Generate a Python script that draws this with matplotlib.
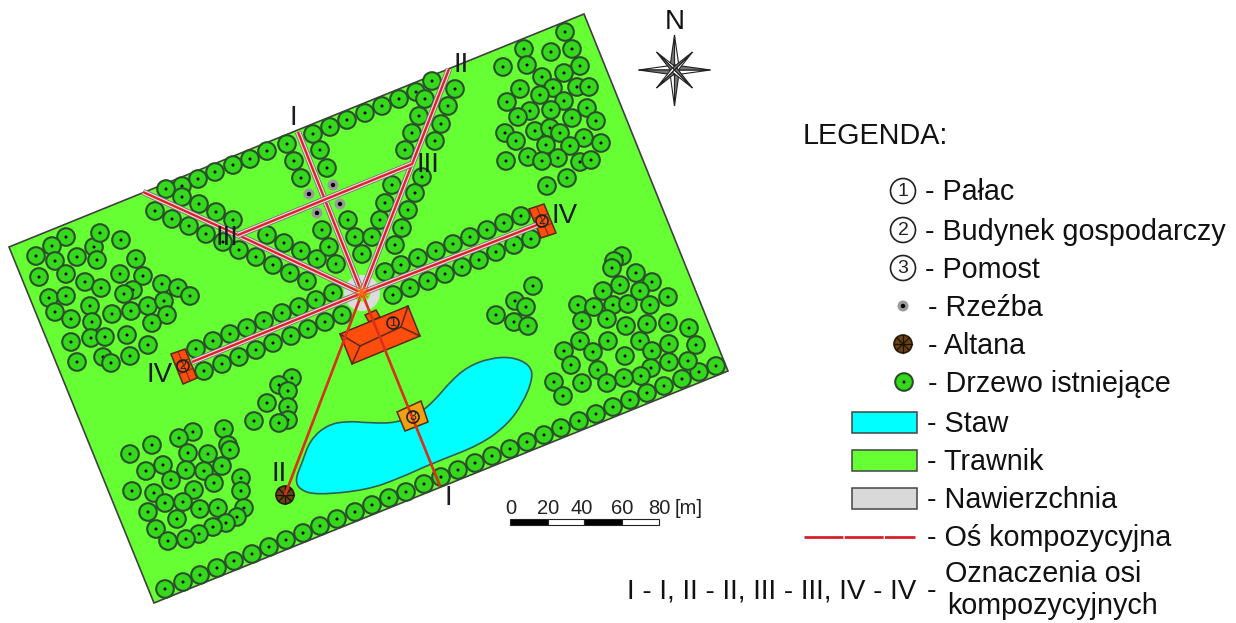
# Park plan with composition axes
import numpy as np
import matplotlib
matplotlib.use("Agg")
import matplotlib.pyplot as plt
from matplotlib.patches import Circle, Polygon, PathPatch, Rectangle
from matplotlib.path import Path

plt.rcParams["font.family"] = ["Liberation Sans", "DejaVu Sans"]

# everything in pixels
parcel = [(584, 14), (728, 371), (154, 603), (9, 247)]

pond = [(295, 480), (302, 463), (310, 440), (327, 425), (347, 421), (370, 423),
        (397, 423), (420, 413), (435, 400), (450, 382), (467, 367), (490, 358),
        (513, 357), (530, 365), (533, 378), (523, 403), (507, 425), (480, 445),
        (433, 463), (400, 478), (367, 490), (317, 495), (300, 490)]

trees_top_row = [(399, 99), (382, 106), (365, 113), (347, 120), (330, 127), (313, 134),
                 (287, 144), (267, 151), (250, 159), (233, 165), (215, 172), (198, 179),
                 (182, 186), (166, 189), (182, 197), (199, 204), (216, 212), (233, 220),
                 (155, 211), (172, 219), (189, 226), (206, 234), (223, 242), (239, 250),
                 (256, 257), (273, 265), (290, 273), (307, 281)]
trees_inner = [(267, 235), (284, 243), (301, 251), (317, 259), (336, 264), (329, 247),
               (322, 230), (348, 220), (355, 237), (372, 237), (362, 254), (385, 272),
               (380, 220), (392, 185), (385, 203), (320, 150), (327, 168), (294, 161),
               (301, 178), (432, 81), (416, 92), (425, 99), (455, 89), (448, 106),
               (419, 116), (441, 124), (412, 133), (435, 141), (405, 150), (422, 177),
               (415, 193), (408, 210), (402, 228), (395, 245)]
trees_axis_iv = [(196, 349), (213, 341), (230, 334), (247, 328), (264, 321), (282, 313),
                 (299, 307), (316, 300), (333, 293), (204, 371), (222, 364), (239, 357),
                 (256, 350), (273, 343), (291, 336), (308, 329), (325, 322), (342, 315),
                 (521, 216), (504, 223), (487, 230), (470, 237), (453, 244), (436, 251),
                 (418, 258), (401, 265), (531, 239), (514, 245), (496, 252), (479, 260),
                 (462, 267), (445, 274), (428, 281), (410, 288), (393, 295)]
trees_left = [(66, 237), (52, 246), (36, 256), (55, 261), (77, 257), (94, 247), (100, 233),
              (121, 240), (97, 260), (66, 274), (39, 277), (85, 282), (101, 288), (120, 274),
              (136, 259), (143, 276), (162, 284), (178, 288), (190, 296), (133, 290),
              (124, 294), (49, 298), (66, 296), (90, 306), (112, 314), (131, 311),
              (148, 306), (164, 301), (167, 315), (55, 312), (71, 319), (92, 322),
              (152, 323), (71, 342), (91, 338), (105, 337), (127, 335), (148, 345),
              (77, 362), (103, 357), (111, 363), (130, 356)]
trees_mid_left = [(292, 378), (279, 385), (288, 391), (267, 403), (288, 407), (288, 420),
                  (279, 423), (254, 421)]
trees_bottom_left = [(193, 432), (179, 438), (224, 429), (228, 445), (230, 450), (152, 445),
                     (130, 454), (188, 453), (208, 454), (222, 466), (163, 465), (146, 471),
                     (186, 470), (204, 471), (171, 480), (214, 483), (241, 478), (241, 491),
                     (194, 490), (132, 491), (154, 493), (165, 503), (183, 502), (200, 509),
                     (218, 508), (244, 508), (237, 517), (226, 523), (148, 512), (177, 519),
                     (213, 527), (199, 534), (186, 539), (156, 529), (168, 541)]
trees_bottom_row = [(165, 589), (183, 582), (200, 575), (217, 568), (234, 561), (252, 554),
                    (269, 547), (286, 540), (303, 533), (320, 526), (337, 519), (355, 512),
                    (372, 505), (389, 498), (406, 492), (424, 484), (441, 477), (458, 470),
                    (475, 463), (492, 456), (510, 449), (527, 442), (544, 435), (561, 428),
                    (579, 421), (596, 414), (613, 407), (630, 400), (647, 393), (664, 386),
                    (682, 379), (699, 372), (716, 366)]
trees_mid_right = [(533, 286), (515, 301), (526, 307), (496, 315), (514, 322), (528, 326)]
trees_right = [(622, 256), (614, 261), (612, 268), (636, 273), (652, 282), (620, 285),
               (603, 291), (640, 291), (668, 297), (578, 305), (594, 307), (613, 305),
               (628, 304), (650, 305), (582, 321), (607, 319), (626, 326), (647, 324),
               (668, 323), (689, 328), (580, 341), (608, 341), (640, 341), (669, 344),
               (696, 345), (564, 351), (593, 352), (652, 351), (625, 356), (669, 362),
               (688, 361), (571, 365), (598, 370), (651, 368), (641, 376), (624, 378),
               (607, 383), (582, 383), (554, 382), (563, 396)]
trees_top_right = [(565, 32), (524, 49), (551, 52), (572, 49), (580, 66), (503, 67),
                   (527, 65), (542, 77), (564, 73), (520, 89), (553, 88), (577, 87),
                   (589, 87), (540, 95), (564, 101), (507, 102), (530, 111), (551, 110),
                   (587, 108), (572, 118), (518, 117), (596, 121), (505, 133), (535, 131),
                   (550, 128), (560, 133), (516, 141), (584, 138), (601, 143), (546, 145),
                   (570, 146), (528, 157), (558, 158), (542, 161), (506, 161), (580, 162),
                   (591, 160), (567, 178), (547, 186)]

sculptures = [(333, 185), (309, 194), (340, 204), (317, 213)]

center = (362, 293)
altana = (285, 495)

# paved axes, upper part of the park
paved_axes = [[(298, 132), center], [(449, 69), center], [(143, 192), (238, 235), center],
              [(238, 235), (412, 164)], [(537, 225), center], [(192, 362), center]]
# plain axes running south across the palace and the pond
plain_axes = [[center, (440, 486)], [center, altana]]

palace = [(340, 334), (408, 306), (420, 336), (352, 364)]
palace_ridge = [(360, 346), (401, 327)]
palace_entry = [(365, 315), (376, 310), (380, 317), (369, 322)]
farm_right = [(529, 209), (544, 204), (556, 233), (541, 238)]
farm_left = [(171, 354), (185, 349), (197, 378), (183, 384)]
pier = [(397, 412), (421, 401), (428, 422), (405, 431)]

map_labels = [("I", 293, 118), ("II", 461, 65), ("III", 428, 165), ("III", 227, 238),
              ("IV", 565, 216), ("IV", 160, 375), ("II", 279, 474), ("I", 448, 498)]

scale_ticks = ["0", "20", "40", "60", "80"]
scale_x = [511, 548, 582, 622, 659]
scale_edges = [510, 548, 584, 622, 659]

legend_numbers = [("1", 191, "- Pałac"), ("2", 230, "- Budynek gospodarczy"), ("3", 268, "- Pomost")]
legend_boxes = [("#00ffff", 422, "- Staw"), ("#66ff33", 460, "- Trawnik"), ("#d9d9d9", 498, "- Nawierzchnia")]

TREE_R = 8.8
FS = 20.7
LAWN = "#66ff33"
ORANGE = "#ff4d0d"
INK = "#111111"


def tree(ax, x, y):
    ax.add_patch(Circle((x, y), TREE_R, fc="#35d91c", ec="#2b4f2b", lw=1.5, zorder=3))
    ax.add_patch(Circle((x, y), 1.5, fc="black", ec="none", zorder=3))


def sculpture(ax, x, y):
    ax.add_patch(Circle((x, y), 5.5, fc="#9a9a9a", ec="none", zorder=4))
    ax.add_patch(Circle((x, y), 2.2, fc="black", ec="none", zorder=4))


def gazebo(ax, x, y, r):
    ax.add_patch(Circle((x, y), r, fc="#6b4310", ec="#2a1a05", lw=1.2, zorder=4))
    for ang in np.arange(0, 180, 45):
        dx, dy = r * np.cos(np.radians(ang)), r * np.sin(np.radians(ang))
        ax.plot([x - dx, x + dx], [y - dy, y + dy], color="#1a1005", lw=0.9, zorder=4)


def number(ax, x, y, txt, r, fs, zorder=6):
    ax.add_patch(Circle((x, y), r, fc="none", ec="#222222", lw=1.2, zorder=zorder))
    ax.text(x, y + 0.3, txt, ha="center", va="center", fontsize=fs, color="#222222", zorder=zorder)


def building(ax, pts, color=ORANGE):
    ax.add_patch(Polygon(pts, closed=True, fc=color, ec="#5a2a10", lw=1.1, zorder=4))


def label(ax, x, y, txt, fs=FS):
    # shifted down a little, va center sits high on mixed case text
    ax.text(x, y + 1.5, txt, ha="left", va="center", fontsize=fs, color=INK)


def smooth_closed(pts):
    # quadratic segments through the midpoints of the outline
    pts = np.array(pts, dtype=float)
    mids = (pts + np.roll(pts, -1, axis=0)) / 2
    verts = [mids[-1]]
    codes = [Path.MOVETO]
    for i in range(len(pts)):
        verts += [pts[i], mids[i]]
        codes += [Path.CURVE3, Path.CURVE3]
    return Path(verts, codes)


fig = plt.figure(figsize=(12.36, 6.23), dpi=100)
ax = fig.add_axes([0, 0, 1, 1])
ax.set_xlim(0, 1236)
ax.set_ylim(623, 0)
ax.axis("off")

# lawn and pond
ax.add_patch(Polygon(parcel, closed=True, fc=LAWN, ec="#404040", lw=1.2, zorder=1))
ax.add_patch(PathPatch(smooth_closed(pond), fc="#00ffff", ec="#2f5f4f", lw=1.2, zorder=2))

# trees
all_trees = (trees_top_row + trees_inner + trees_axis_iv + trees_left + trees_mid_left
             + trees_bottom_left + trees_bottom_row + trees_mid_right + trees_right + trees_top_right)
for x, y in all_trees:
    tree(ax, x, y)

for x, y in sculptures:
    sculpture(ax, x, y)

# plaza ring
ax.add_patch(Circle(center, 18, fc="#dcdcdc", ec="none", zorder=3.5))
ax.add_patch(Circle(center, 8.5, fc=LAWN, ec="none", zorder=3.6))

# buildings
building(ax, palace_entry)
building(ax, palace)
ax.plot(*zip(*palace_ridge), color="#5a2a10", lw=1.1, zorder=4)
ax.plot([palace[0][0], palace_ridge[0][0]], [palace[0][1], palace_ridge[0][1]], color="#5a2a10", lw=1.1, zorder=4)
ax.plot([palace[3][0], palace_ridge[0][0]], [palace[3][1], palace_ridge[0][1]], color="#5a2a10", lw=1.1, zorder=4)
ax.plot([palace[1][0], palace_ridge[1][0]], [palace[1][1], palace_ridge[1][1]], color="#5a2a10", lw=1.1, zorder=4)
ax.plot([palace[2][0], palace_ridge[1][0]], [palace[2][1], palace_ridge[1][1]], color="#5a2a10", lw=1.1, zorder=4)
number(ax, 393, 323, "1", 6, 9)

for farm, cx, cy in [(farm_right, 542, 221), (farm_left, 183, 366)]:
    building(ax, farm)
    p = np.array(farm, dtype=float)
    ax.plot([(p[0][0] + p[1][0]) / 2, (p[2][0] + p[3][0]) / 2],
            [(p[0][1] + p[1][1]) / 2, (p[2][1] + p[3][1]) / 2], color="#7a3010", lw=0.8, zorder=4)
    for t in (1 / 3, 2 / 3):
        a = p[0] + (p[3] - p[0]) * t
        b = p[1] + (p[2] - p[1]) * t
        ax.plot([a[0], b[0]], [a[1], b[1]], color="#7a3010", lw=0.8, zorder=4)
    number(ax, cx, cy, "2", 6, 9)

building(ax, pier, color="#f0a010")
number(ax, 413, 417, "3", 6, 9)

# composition axes
for line in paved_axes:
    xs, ys = zip(*line)
    ax.plot(xs, ys, color="#707070", lw=4.6, solid_capstyle="butt", zorder=5)
    ax.plot(xs, ys, color="#eedede", lw=3.4, solid_capstyle="butt", zorder=5)
    ax.plot(xs, ys, color="#e0202c", lw=1.7, solid_capstyle="butt", zorder=5)
for line in plain_axes:
    xs, ys = zip(*line)
    ax.plot(xs, ys, color="#d8301a", lw=1.9, solid_capstyle="butt", zorder=5)

gazebo(ax, altana[0], altana[1], 9)

# small star on the plaza centre
for ang in np.arange(0, 180, 36):
    dx, dy = 7 * np.cos(np.radians(ang)), 7 * np.sin(np.radians(ang))
    ax.plot([center[0] - dx, center[0] + dx], [center[1] - dy, center[1] + dy], color="#ff6a10", lw=1, zorder=5.5)

for txt, x, y in map_labels:
    ax.text(x, y, txt, ha="center", va="center", fontsize=20, color="#1a1a28", zorder=7)

# north star
cx, cy = 674.5, 70
for (tx, ty), size in [((0, -35), 5), ((0, 36), 5), ((-36, 0), 5), ((36, 0), 5),
                       ((-18, -18), 3), ((18, -18), 3), ((-18, 18), 3), ((18, 18), 3)]:
    n = np.array([-ty, tx], dtype=float)
    n = n / np.hypot(*n) * size
    tip = (cx + tx, cy + ty)
    ax.add_patch(Polygon([(cx, cy), (cx + n[0], cy + n[1]), tip], fc="white", ec="#222222", lw=0.8, zorder=4))
    ax.add_patch(Polygon([(cx, cy), (cx - n[0], cy - n[1]), tip], fc="#777777", ec="#222222", lw=0.8, zorder=4))
ax.text(675, 22, "N", ha="center", va="center", fontsize=20, color=INK)

# scale bar
for i in range(4):
    ax.add_patch(Rectangle((scale_edges[i], 519), scale_edges[i + 1] - scale_edges[i], 6,
                           fc="black" if i % 2 == 0 else "white", ec="#222222", lw=0.8))
for lab, x in zip(scale_ticks, scale_x):
    ax.text(x, 508, lab, ha="center", va="center", fontsize=14.5, color="#222222")
ax.text(689, 508, "[m]", ha="center", va="center", fontsize=14.5, color="#222222")

# legend
label(ax, 803, 134, "LEGENDA:")
for num, y, lab in legend_numbers:
    number(ax, 903, y, num, 12.5, 14)
    label(ax, 925, y, lab)

sculpture(ax, 903, 306)
label(ax, 928, 306, "- Rzeźba")
gazebo(ax, 903, 344, 9)
label(ax, 928, 344, "- Altana")
tree(ax, 904, 382)
label(ax, 928, 382, "- Drzewo istniejące")

for col, y, lab in legend_boxes:
    ax.add_patch(Rectangle((852, y - 10.5), 65, 21, fc=col, ec="#444444", lw=1.1))
    label(ax, 927, y, lab)

ax.plot([804, 915], [537, 537], color="#d8202c", lw=2, dashes=(14, 0.5))
label(ax, 927, 536, "- Oś kompozycyjna")

label(ax, 627, 590, "I - I, II - II, III - III, IV - IV", fs=20)
label(ax, 927, 590, "-")
label(ax, 945, 573, "Oznaczenia osi")
label(ax, 947, 605, "kompozycyjnych")

fig.savefig("out.png", dpi=100, facecolor="white")
